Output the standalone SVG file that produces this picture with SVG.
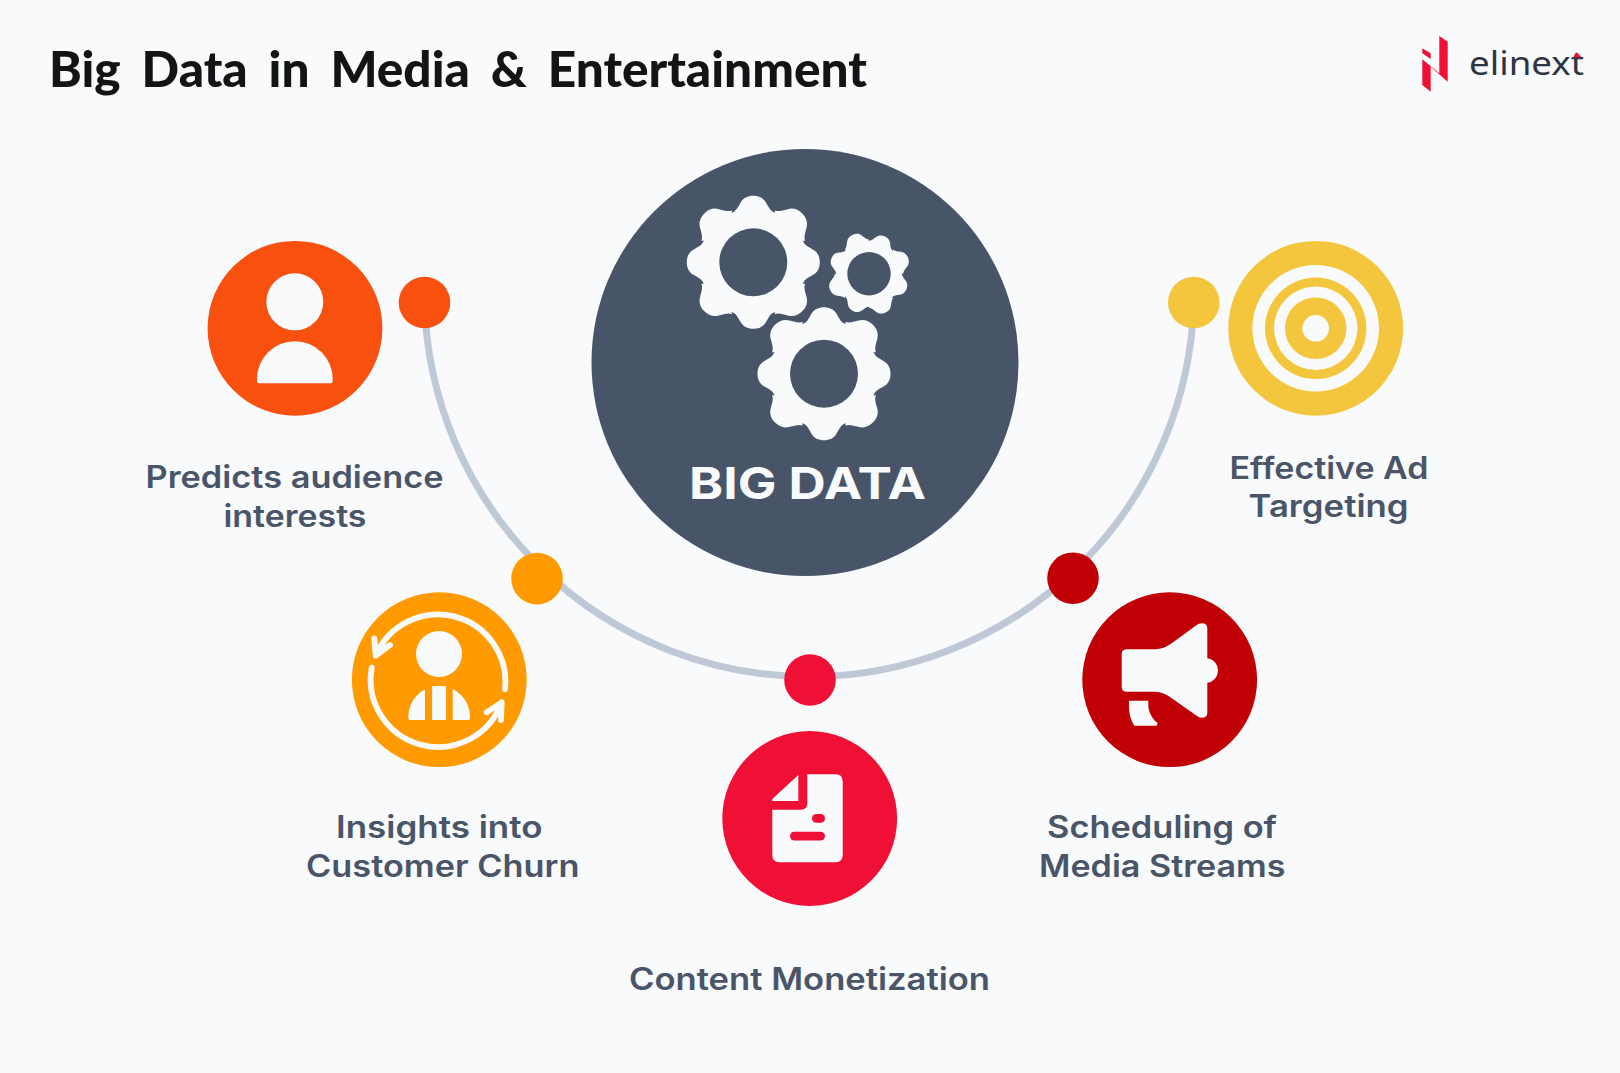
<svg xmlns="http://www.w3.org/2000/svg" xmlns:xlink="http://www.w3.org/1999/xlink" width="1620" height="1073" viewBox="0 0 1620 1073">
<style>
.lbl{font-family:Inter,"Noto Sans","Liberation Sans",sans-serif;font-weight:600;font-size:30.7px;fill:#4a5568}
.w{fill:#f8fafc}
.ring{fill:none;stroke:#f8fafc;stroke-width:5.8;stroke-linecap:round;stroke-linejoin:round}
</style>
<defs>
<path id="tooth" d="M-20.7,-49.9C-17,-51.4 -15.5,-55 -12.8,-59.5C-10,-64.5 -5.5,-66.5 0,-66.5C5.5,-66.5 10,-64.5 12.8,-59.5C15.5,-55 17,-51.4 20.7,-49.9L0,-30Z"/>
<g id="gear">
<circle r="54"/>
<use xlink:href="#tooth"/>
<use xlink:href="#tooth" transform="rotate(45) scale(1.04)"/>
<use xlink:href="#tooth" transform="rotate(90)"/>
<use xlink:href="#tooth" transform="rotate(135) scale(1.04)"/>
<use xlink:href="#tooth" transform="rotate(180)"/>
<use xlink:href="#tooth" transform="rotate(225) scale(1.04)"/>
<use xlink:href="#tooth" transform="rotate(270)"/>
<use xlink:href="#tooth" transform="rotate(315) scale(1.04)"/>
</g>
</defs>
<rect width="1620" height="1073" fill="#f8fafc"/>
<text id="title" x="49" y="87" font-family="Lato,'Noto Sans','Liberation Sans',sans-serif" font-weight="900" font-size="49" word-spacing="9" fill="#131416" textLength="818" lengthAdjust="spacingAndGlyphs">Big Data in Media &amp; Entertainment</text>
<g id="logo">
<polygon fill="#f01035" points="1439.3,36 1447.7,41.7 1447.7,81.7 1430.7,66.7 1430.7,91.7 1422.3,85 1422.3,59.3 1439.3,73.3"/>
<polygon fill="#f01035" points="1422.3,48.3 1430.7,53.3 1430.7,59 1422.3,53.3"/>
<text x="1469" y="75" font-family="'Noto Sans','Liberation Sans',sans-serif" font-weight="400" font-size="33" fill="#2d3542" textLength="115" lengthAdjust="spacingAndGlyphs">elinext</text>
<polygon fill="#f01035" points="1573.3,57.3 1581.7,57.3 1576.7,52.3"/>
</g>
<g id="connectors">
<path d="M424.5,302.5A384.8,384.8 0 0 0 1193.8,302.5" fill="none" stroke="#bfc8d6" stroke-width="7"/>
</g>
<g id="center">
<circle cx="805" cy="362.5" r="213.5" fill="#485569"/>
<g class="w">
<use xlink:href="#gear" transform="translate(753.3,262.3)"/>
<use xlink:href="#gear" transform="translate(824,373.7)"/>
<use xlink:href="#gear" transform="translate(869,273.7) rotate(22.5) scale(.61)"/>
</g>
<circle cx="753.3" cy="262.3" r="34" fill="#485569"/>
<circle cx="824" cy="373.7" r="34" fill="#485569"/>
<circle cx="869" cy="273.7" r="21.7" fill="#485569"/>
<text x="689" y="499" font-family="Inter,'Noto Sans',sans-serif" font-weight="700" font-size="44.4" fill="#f8fafc" textLength="237" lengthAdjust="spacingAndGlyphs">BIG DATA</text>
</g>
<g id="node-predicts">
<circle cx="424.5" cy="302.5" r="25.8" fill="#f8500e"/>
<circle cx="295" cy="328.3" r="87.4" fill="#f8500e"/>
<circle cx="294.8" cy="301.8" r="28.5" class="w"/>
<path class="w" d="M257,381V379A37.8,37.8 0 0 1 332.7,379V381Q332.7,383.3 330.5,383.3H259.2Q257,383.3 257,381Z"/>
<text class="lbl" x="145.5" y="488.3" textLength="298" lengthAdjust="spacingAndGlyphs">Predicts audience</text>
<text class="lbl" x="223.5" y="527.3" textLength="143" lengthAdjust="spacingAndGlyphs">interests</text>
</g>
<g id="node-churn">
<circle cx="537" cy="578.6" r="25.8" fill="#ff9b00"/>
<circle cx="439.3" cy="679.7" r="87.4" fill="#ff9b00"/>
<circle cx="439" cy="654" r="23" class="w"/>
<path class="w" d="M408.3,718V716.8A30.8,30.8 0 0 1 470,716.8V718Q470,720 468,720H410.3Q408.3,720 408.3,718Z"/>
<rect x="425" y="680" width="7.3" height="42" fill="#ff9b00"/>
<rect x="446" y="680" width="6.7" height="42" fill="#ff9b00"/>
<rect x="432" y="680" width="14" height="6" fill="#ff9b00"/>
<path class="w" d="M432.3,686H446V720H432.3Z"/>
<path class="ring" d="M505,689.3A67.5,67.5 0 0 0 375.7,655.7M374.3,638.3L375.7,655.7L390,645"/>
<path class="ring" d="M371.7,667.7A67.5,67.5 0 0 0 501.7,702.3M486.7,712.3L501.7,702.3L501,720"/>
<text class="lbl" x="336" y="838" textLength="206.5" lengthAdjust="spacingAndGlyphs">Insights into</text>
<text class="lbl" x="306" y="877" textLength="273.5" lengthAdjust="spacingAndGlyphs">Customer Churn</text>
</g>
<g id="node-monetization">
<circle cx="810" cy="680" r="25.8" fill="#f01035"/>
<circle cx="809.7" cy="818.5" r="87.4" fill="#f01035"/>
<path class="w" d="M807.3,774.3H835.7Q842.7,774.3 842.7,781.7V855Q842.7,862.3 835.7,862.3H779.3Q772.3,862.3 772.3,855V809.7H801Q807.3,809.7 807.3,803.3Z"/>
<path class="w" d="M798.3,775V801H772.3V799Z"/>
<rect x="812" y="814" width="13" height="8.7" rx="4.3" fill="#f01035"/>
<rect x="790" y="831.7" width="35" height="8.7" rx="4.3" fill="#f01035"/>
<text class="lbl" x="629" y="990" textLength="361" lengthAdjust="spacingAndGlyphs">Content Monetization</text>
</g>
<g id="node-scheduling">
<circle cx="1073" cy="578.2" r="25.8" fill="#c00005"/>
<circle cx="1169.7" cy="679.7" r="87.4" fill="#c00005"/>
<path class="w" d="M1126.7,649.3H1155C1161,649.3 1166.5,647 1171.7,643.3L1196.7,625Q1199,623.3 1201.7,623.3Q1207.3,623.3 1207.3,628.3V658.3A12.3,12.3 0 0 1 1207.3,682.7V713.3Q1207.3,717.7 1201.7,717.7Q1199,717.7 1196.7,715.7L1171.7,698.3C1166.5,694 1161,691.7 1155,691.7H1126.7Q1121.7,691.7 1121.7,686.7V654.3Q1121.7,649.3 1126.7,649.3Z"/>
<path class="w" d="M1129,700.7H1148.3V706.7C1149.5,714 1153,719.5 1157.3,722.7Q1157.8,725.7 1156,725.7H1134.3C1130,718 1128.5,712 1129,700.7Z"/>
<text class="lbl" x="1047" y="838" textLength="230" lengthAdjust="spacingAndGlyphs">Scheduling of</text>
<text class="lbl" x="1039" y="877" textLength="246.5" lengthAdjust="spacingAndGlyphs">Media Streams</text>
</g>
<g id="node-targeting">
<circle cx="1193.8" cy="302.5" r="25.8" fill="#f4c63d"/>
<circle cx="1315.7" cy="328.3" r="87.4" fill="#f4c63d"/>
<circle cx="1315.7" cy="328.3" r="63.3" class="w"/>
<circle cx="1315.7" cy="328.3" r="50.7" fill="#f4c63d"/>
<circle cx="1315.7" cy="328.3" r="41.7" class="w"/>
<circle cx="1315.7" cy="328.3" r="30.8" fill="#f4c63d"/>
<circle cx="1315.7" cy="328.3" r="13.3" class="w"/>
<text class="lbl" x="1229.5" y="479" textLength="199" lengthAdjust="spacingAndGlyphs">Effective Ad</text>
<text class="lbl" x="1248.5" y="517.3" textLength="160" lengthAdjust="spacingAndGlyphs">Targeting</text>
</g>
</svg>
